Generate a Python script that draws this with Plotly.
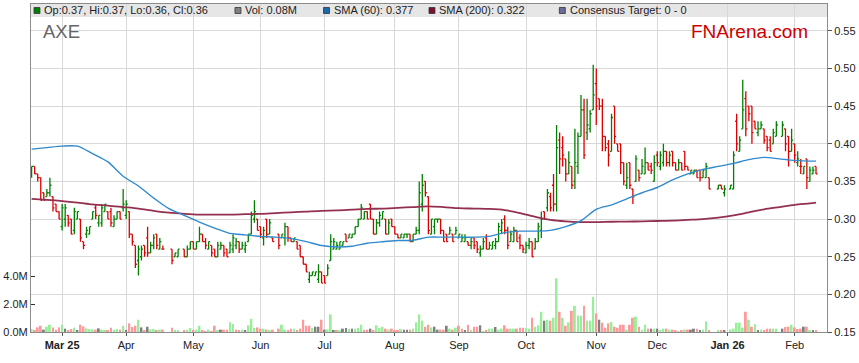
import plotly.graph_objects as go
import pandas as pd

N = None
ticker = "AXE"
site = "FNArena.com"
first_session = "2025-02-17"

opens = [
    .360, .370, .360, .355, .335, .330, .335, .330, .320, .310,
    .290, .300, .305, .300, .285, .300, .300, .270, .280, .280,
    .300, .315, .295, .295, .310, .310, .310, .290, .300, .310,
    .315, .305, .310, .280, .265, .245, .250, .265, .275, .255,
    .265, .280, .260, .260, N, N, .260, .250, .250, N,
    .260, .250, .260, .270, .260, .270, .280, .270, .260, .265,
    .260, .250, .260, .265, .260, .255, .260, .265, .270, .260,
    .260, .270, .280, .300, .300, .290, .275, .300, .280, .275,
    N, .280, .275, .275, .290, .275, .270, .270, .265, .250,
    .240, .220, .225, .225, .220, .230, .225, .225, .245, .260,
    .260, .260, .265, .280, .275, .275, .280, .290, .300, .300,
    .310, .320, .300, .280, .295, .300, .300, .280, .300, .290,
    .280, .275, .275, .280, .280, .270, .280, .285, .320, .350,
    .330, .280, .290, .300, .300, .285, .280, .280, .280, .280,
    .275, .270, .270, .270, .265, .275, .270, .255, .260, .275,
    .260, .260, .265, .270, .285, .300, .285, .270, .270, .285,
    .275, .265, .255, .265, .270, .260, .270, .285, .310, .315,
    .330, .345, .320, .405, .395, .380, .360, .370, .350, .370,
    .410, .445, .415, .420, .445, .480, .460, .450, .410, .400,
    .390, .450, .400, .400, .375, .345, .375, .340, .350, .365,
    .360, .360, .375, .370, .350, .385, .370, .375, .390, .375,
    .390, .375, .365, .375, .390, .370, .360, .360, .365, .365,
    .355, .355, .355, N, N, .340, .345, .335, N, .340,
    .340, .430, .390, .420, .460, .450, .450, .430, .415, .420,
    .420, .410, .405, .400, .410, N, .410, .420, .410, .390,
    .400, .375, .370, .360, .380, .350, .360, .370,
]
highs = [
    .370, .370, .360, .355, .335, .340, .355, .330, .320, .310,
    .320, .320, .305, .300, .315, .310, .300, .270, .290, .290,
    .310, .320, .305, .320, .320, .310, .315, .305, .310, .310,
    .340, .325, .310, .280, .265, .265, .265, .265, .290, .270,
    .280, .280, .275, .265, N, N, .260, .255, .260, N,
    .260, .265, .270, .270, .270, .290, .280, .275, .270, .265,
    .260, .270, .270, .265, .260, .270, .280, .275, .270, .270,
    .270, .280, .310, .325, .300, .290, .290, .300, .300, .275,
    N, .280, .280, .295, .290, .275, .275, .270, .265, .250,
    .240, .230, .230, .230, .240, .230, .225, .240, .280, .275,
    .270, .270, .270, .280, .280, .280, .290, .300, .320, .310,
    .310, .320, .300, .300, .310, .310, .300, .300, .300, .290,
    .280, .280, .280, .280, .280, .280, .290, .350, .360, .350,
    .330, .300, .300, .300, .300, .285, .280, .290, .280, .290,
    .280, .280, .280, .270, .275, .275, .270, .265, .275, .280,
    .270, .270, .275, .295, .300, .305, .290, .285, .290, .285,
    .280, .265, .270, .275, .270, .275, .295, .310, .310, .340,
    .335, .360, .425, .415, .410, .380, .390, .370, .420, .415,
    .465, .460, .460, .445, .505, .500, .460, .460, .410, .405,
    .440, .450, .400, .400, .375, .375, .375, .340, .385, .365,
    .380, .395, .375, .375, .385, .390, .390, .400, .390, .390,
    .390, .375, .380, .375, .390, .370, .365, .365, .365, .365,
    .365, .375, .355, N, N, .345, .345, .345, N, .345,
    .390, .440, .410, .485, .470, .450, .450, .430, .430, .430,
    .420, .410, .410, .420, .430, N, .430, .420, .410, .420,
    .400, .390, .380, .370, .380, .370, .370, .370,
]
lows = [
    .355, .360, .350, .325, .325, .330, .330, .310, .310, .300,
    .285, .290, .290, .280, .280, .300, .270, .260, .275, .280,
    .300, .300, .290, .290, .310, .300, .290, .290, .300, .300,
    .310, .300, .275, .265, .235, .225, .245, .250, .250, .255,
    .260, .260, .260, .260, N, N, .240, .250, .250, N,
    .250, .250, .260, .260, .260, .270, .270, .260, .260, .250,
    .250, .250, .260, .250, .250, .255, .255, .260, .255, .260,
    .255, .270, .280, .295, .285, .275, .265, .275, .280, .270,
    N, .260, .275, .265, .270, .270, .270, .260, .250, .240,
    .230, .215, .225, .225, .215, .215, .215, .225, .245, .260,
    .260, .260, .265, .270, .275, .275, .280, .290, .300, .300,
    .300, .300, .280, .280, .290, .300, .280, .280, .290, .280,
    .275, .275, .275, .275, .270, .270, .280, .280, .310, .330,
    .280, .280, .280, .295, .280, .270, .270, .280, .270, .280,
    .275, .270, .270, .265, .260, .260, .255, .250, .260, .260,
    .260, .260, .260, .270, .280, .280, .260, .270, .270, .270,
    .260, .255, .255, .260, .250, .260, .270, .275, .300, .310,
    .310, .310, .310, .360, .370, .350, .360, .340, .340, .360,
    .410, .380, .405, .415, .445, .425, .445, .390, .390, .370,
    .390, .400, .390, .360, .345, .340, .340, .320, .350, .350,
    .360, .360, .365, .360, .350, .370, .365, .370, .370, .370,
    .370, .365, .365, .365, .365, .365, .360, .360, .355, .350,
    .355, .355, .340, N, N, .340, .340, .330, N, .340,
    .340, .390, .390, .420, .410, .430, .400, .420, .410, .420,
    .400, .390, .390, .400, .410, N, .410, .390, .370, .390,
    .375, .370, .360, .360, .340, .350, .360, .360,
]
closes = [
    .370, .360, .355, .325, .325, .335, .345, .315, .310, .300,
    .315, .315, .295, .280, .310, .310, .275, .265, .285, .290,
    .310, .305, .305, .315, .320, .300, .295, .300, .310, .300,
    .320, .320, .280, .270, .240, .260, .260, .255, .255, .265,
    .275, .265, .270, .260, N, N, .245, .255, .260, N,
    .250, .260, .270, .260, .270, .280, .270, .265, .270, .255,
    .250, .265, .265, .255, .250, .265, .275, .270, .260, .265,
    .265, .280, .305, .310, .285, .280, .285, .280, .295, .270,
    N, .265, .280, .290, .275, .270, .275, .260, .250, .240,
    .230, .225, .230, .230, .230, .215, .215, .235, .270, .270,
    .265, .270, .270, .270, .280, .280, .290, .300, .315, .310,
    .300, .300, .280, .295, .305, .310, .280, .295, .290, .280,
    .275, .280, .280, .280, .270, .280, .285, .335, .345, .335,
    .285, .300, .300, .300, .285, .270, .270, .285, .270, .285,
    .280, .275, .275, .265, .270, .265, .260, .260, .270, .260,
    .265, .270, .270, .290, .295, .285, .265, .280, .285, .270,
    .265, .260, .265, .270, .250, .270, .290, .300, .300, .335,
    .315, .320, .395, .380, .385, .360, .375, .345, .375, .410,
    .445, .385, .425, .440, .465, .450, .450, .410, .395, .385,
    .435, .410, .390, .375, .350, .355, .345, .330, .380, .355,
    .370, .375, .365, .365, .375, .375, .385, .390, .375, .385,
    .375, .365, .375, .365, .370, .365, .365, .365, .355, .355,
    .365, .370, .340, N, N, .345, .340, .340, N, .345,
    .385, .400, .405, .445, .420, .440, .415, .420, .420, .425,
    .405, .395, .390, .415, .425, N, .425, .400, .390, .405,
    .385, .380, .370, .370, .355, .365, .365, .360,
]
volumes_m = [
    .21, .12, .33, .45, .17, .38, .52, .33, .17, .33,
    .52, .24, .12, .21, .31, .10, .52, .40, .26, .21,
    .19, .17, .26, .17, .12, .10, .31, .17, .21, .17,
    .45, .10, .62, .36, .45, .88, .33, .12, .38, .19,
    .21, .10, .17, .17, N, N, .31, .14, .10, N,
    .14, .17, .29, .12, .17, .45, .12, .07, .17, .07,
    .45, .10, .17, .17, .17, .69, .57, .17, .12, .17,
    .12, .48, .95, .29, .33, .24, .24, .17, .12, .17,
    N, .24, .52, .17, .12, .24, .24, .14, .24, .88,
    .45, .45, .29, .38, .38, .88, .17, .19, 1.26, .10,
    .10, .10, .24, .29, .24, .24, .24, .29, .52, .10,
    .17, .24, .14, .48, .29, .38, .24, .17, .24, .12,
    .12, .21, .17, .17, .17, .24, .69, 1.26, .81, .38,
    .52, .33, .38, .17, .17, .17, .45, .24, .17, .31,
    .45, .24, .10, .52, .10, .38, .38, .48, .07, .14,
    .24, .24, .36, .17, .24, .48, .24, .24, .24, .24,
    .31, .31, .29, .24, 1.02, .38, .48, 1.45, .81, .88,
    .81, 1.02, 3.85, 1.45, 1.02, .45, .69, 1.52, 1.88, 1.19,
    1.17, 1.88, .81, .81, 2.52, 1.33, .88, .67, .31, .62,
    .71, .38, .31, .52, .52, .17, .52, 1.02, 1.10, .38,
    .17, .52, .24, .24, .24, .24, .10, .24, .24, .17,
    .17, .10, .07, .14, .17, .17, .17, .24, .24, .10,
    .17, .76, .10, N, N, .10, .14, .10, N, .17,
    .24, .67, .67, .31, 1.45, .88, .38, .55, .14, .17,
    .14, .24, .24, .24, .24, N, .24, .36, .38, .52,
    .33, .21, .24, .38, .38, .14, .10, .08,
]
sma60_values = [
    .393, .395, .397, .397, .387, .376, .357, .344, .328, .314,
    .305, .296, .288, .281, .279, .277, .276, .274, .270, .265,
    .263, .264, .268, .270, .2715, .272, .276, .276, .276, .276,
    .277, .282, .284, .284, .285, .290, .298, .313, .319, .327,
    .335, .342, .352, .360, .366, .370, .374, .379, .382, .380,
    .378, .377, .377,
]
sma200_values = [
    .327, .3255, .324, .322, .3195, .318, .316, .314, .311, .3085,
    .307, .306, .306, .306, .3065, .307, .308, .309, .310, .311,
    .3115, .3125, .3135, .314, .315, .316, .317, .316, .3145, .314,
    .3135, .312, .308, .303, .299, .297, .296, .296, .2965, .2967,
    .297, .2975, .298, .299, .300, .302, .305, .309, .313, .316,
    .319, .321, .322,
]
consensus_text = "Consensus Target: 0 - 0"

# ---------------------------------------------------------------
dates = pd.bdate_range(first_session, periods=len(closes))
n = len(dates)
valid = [i for i in range(n) if closes[i] is not None]

UP, DOWN = "#008000", "#dd0000"
VUP, VDOWN, VFLAT = "#99ee99", "#ff9a9a", "#808080"

vol_colors = []
prev = None
for i in valid:
    c = closes[i]
    if prev is None or c > prev:
        vol_colors.append(VUP)
    elif c < prev:
        vol_colors.append(VDOWN)
    else:
        vol_colors.append(VFLAT)
    prev = c

sma_pos = list(range(0, n, 5))
if sma_pos[-1] != n - 1:
    sma_pos.append(n - 1)

tick_pos, tick_text = [], []
for i in range(1, n):
    if dates[i].month != dates[i - 1].month:
        d = dates[i]
        if not tick_pos or d.month == 1:
            tick_text.append("<b>" + d.strftime("%b %y") + "</b>")
        else:
            tick_text.append(d.strftime("%b"))
        tick_pos.append(i)

FONT = "Arial, Liberation Sans, sans-serif"
W, H = 859, 363
L, R, T, B = 31, 28, 3, 31
PW, PH = W - L - R, H - T - B


def px_x(x):
    return (x - L) / PW


def px_y(y):
    return (H - B - y) / PH


fig = go.Figure()
fig.add_trace(go.Bar(
    x=valid, y=[volumes_m[i] for i in valid], marker_color=vol_colors,
    marker_line_width=0, width=0.62, yaxis="y", hoverinfo="skip",
))
fig.add_trace(go.Scatter(
    x=sma_pos, y=sma200_values, mode="lines", yaxis="y2",
    line=dict(color="#94304f", width=1.8, shape="spline", smoothing=0.8),
    hoverinfo="skip",
))
fig.add_trace(go.Scatter(
    x=sma_pos, y=sma60_values, mode="lines", yaxis="y2",
    line=dict(color="#3089cc", width=1.4, shape="spline", smoothing=0.8),
    hoverinfo="skip",
))
fig.add_trace(go.Ohlc(
    x=valid,
    open=[opens[i] for i in valid], high=[highs[i] for i in valid],
    low=[lows[i] for i in valid], close=[closes[i] for i in valid],
    increasing=dict(line=dict(color=UP, width=1.3)),
    decreasing=dict(line=dict(color=DOWN, width=1.3)),
    tickwidth=0.5, yaxis="y2", hoverinfo="skip",
))

shapes = [dict(type="rect", xref="paper", yref="paper", x0=0, x1=1,
               y0=px_y(16), y1=1, fillcolor="#e6e6e6", line_width=0, layer="below")]
annotations = []
last = n - 1
legend_items = [
    (UP, f"Op:{opens[last]:.2f}, Hi:{highs[last]:.2f}, Lo:{lows[last]:.2f}, Cl:{closes[last]:.2f}", 34),
    ("#808080", f"Vol: {volumes_m[last]:.2f}M", 236),
    ("#1a6aae", f"SMA (60): {sma60_values[-1]:.3f}", 325),
    ("#7a0f2e", f"SMA (200): {sma200_values[-1]:.3f}", 431),
    ("#6b6b99", consensus_text, 562),
]
for color, text, sx in legend_items:
    shapes.append(dict(type="rect", xref="paper", yref="paper",
                       x0=px_x(sx), x1=px_x(sx + 6), y0=px_y(12.5), y1=px_y(6.5),
                       fillcolor=color, line=dict(color="#333333", width=0.8), layer="above"))
    annotations.append(dict(xref="paper", yref="paper", x=px_x(sx + 8.5), y=px_y(9.5),
                            xanchor="left", yanchor="middle", showarrow=False, text=text,
                            font=dict(family=FONT, size=11, color="#222222")))
annotations.append(dict(xref="paper", yref="paper", x=px_x(41), y=px_y(31),
                        xanchor="left", yanchor="middle", showarrow=False, text=ticker,
                        font=dict(family=FONT, size=18.5, color="#666666")))
annotations.append(dict(xref="paper", yref="paper", x=px_x(814), y=px_y(31),
                        xanchor="right", yanchor="middle", showarrow=False, text=site,
                        font=dict(family=FONT, size=19, color="#cc0000")))

price_ticks = [0.15, 0.20, 0.25, 0.30, 0.35, 0.40, 0.45, 0.50, 0.55]
vol_ticks = [0, 2, 4]

fig.update_layout(
    width=W, height=H, margin=dict(l=L, r=R, t=T, b=B),
    paper_bgcolor="white", plot_bgcolor="white", showlegend=False,
    font=dict(family=FONT, size=11, color="#333333"),
    xaxis=dict(range=[-0.2, 260.6], tickvals=tick_pos, ticktext=tick_text,
               showgrid=True, gridcolor="#d9d9d9", gridwidth=1, zeroline=False,
               showline=True, linecolor="#8c8c8c", linewidth=1, mirror=True,
               ticks="outside", ticklen=3, tickcolor="#555555",
               tickfont=dict(family=FONT, size=11, color="#222222"),
               rangeslider=dict(visible=False), fixedrange=True),
    yaxis=dict(range=[0, 23.5], tickvals=vol_ticks,
               ticktext=[f"{v:.1f}M" for v in vol_ticks], side="left",
               showgrid=False, zeroline=False, showline=True, linecolor="#8c8c8c",
               ticks="inside", ticklen=4, tickcolor="#333333",
               tickfont=dict(family=FONT, size=11, color="#222222"), fixedrange=True),
    yaxis2=dict(range=[0.15, 0.5858], tickvals=price_ticks,
                ticktext=[f"{v:.2f}" for v in price_ticks], side="right",
                overlaying="y", showgrid=True, gridcolor="#d9d9d9", gridwidth=1,
                zeroline=False, showline=True, linecolor="#8c8c8c",
                ticks="outside", ticklen=4, tickcolor="#555555",
                ticklabeloverflow="allow",
                tickfont=dict(family=FONT, size=11, color="#222222"), fixedrange=True),
    shapes=shapes, annotations=annotations,
)

fig.write_html("out.html", config={"displayModeBar": False},
               post_script="document.body.style.margin='0px';")
